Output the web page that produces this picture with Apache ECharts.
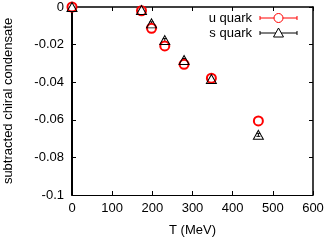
<!DOCTYPE html>
<html><head><meta charset="utf-8">
<script src="https://cdn.jsdelivr.net/npm/echarts@6/dist/echarts.min.js"></script>
<style>html,body{margin:0;padding:0;background:#fff}#c{width:327px;height:241px}</style>
</head><body><div id="c"></div>
<script>
const T = [0, 173, 198, 231, 279, 347, 464];
const uQuark = [0, -0.002, -0.0113, -0.0207, -0.0305, -0.0379, -0.0606];
const uErr = [0.0003, 0.0005, 0.0008, 0.0008, 0.0008, 0.0006, 0.001];
const sQuark = [0, -0.0016, -0.0087, -0.0176, -0.0282, -0.0383, -0.068];
const sErr = [0.0003, 0.0005, 0.0008, 0.0008, 0.0008, 0.0006, 0.0008];
const xTicks = [0, 100, 200, 300, 400, 500, 600];
const yTicks = [0, -0.02, -0.04, -0.06, -0.08, -0.1];

const font = 'Liberation Sans, Arial, sans-serif';
const FS = 13;
const chart = echarts.init(document.getElementById('c'));

function errSeries(vals, errs, color) {
  return {
    type: 'custom', z: 3, clip: false,
    data: T.map((t, i) => [t, vals[i], errs[i]]),
    renderItem: function (params, api) {
      const x = api.value(0), y = api.value(1), e = api.value(2);
      const p1 = api.coord([x, y + e]), p2 = api.coord([x, y - e]);
      const w = 2;
      const st = { stroke: color, lineWidth: 1 };
      return { type: 'group', children: [
        { type: 'line', shape: { x1: p1[0], y1: p1[1], x2: p2[0], y2: p2[1] }, style: st },
        { type: 'line', shape: { x1: p1[0] - w, y1: p1[1], x2: p1[0] + w, y2: p1[1] }, style: st },
        { type: 'line', shape: { x1: p2[0] - w, y1: p2[1], x2: p2[0] + w, y2: p2[1] }, style: st }
      ]};
    }
  };
}

function axisCommon(w) {
  return {
    axisLine: { show: true, onZero: false, lineStyle: { color: '#000', width: w } },
    axisTick: { show: true, inside: true, length: 4, lineStyle: { color: '#000', width: 1 } },
    splitLine: { show: false }
  };
}

function legendRow(y, label, color, symbol) {
  const items = [
    { type: 'text', x: 252, y: y, style: { text: label, x: 0, y: 0, textAlign: 'right', textVerticalAlign: 'middle', font: FS + 'px ' + font, fill: '#000' } },
    { type: 'line', shape: { x1: 260, y1: y, x2: 297, y2: y }, style: { stroke: color, lineWidth: 1 } },
    { type: 'line', shape: { x1: 260, y1: y - 2, x2: 260, y2: y + 2 }, style: { stroke: color, lineWidth: 1 } },
    { type: 'line', shape: { x1: 297, y1: y - 2, x2: 297, y2: y + 2 }, style: { stroke: color, lineWidth: 1 } }
  ];
  if (symbol === 'circle') {
    items.push({ type: 'circle', shape: { cx: 278.5, cy: y, r: 4.5 }, style: { stroke: color, fill: '#fff', lineWidth: 1 } });
  } else {
    items.push({ type: 'polygon', shape: { points: [[278.5, y - 5], [273.5, y + 4], [283.5, y + 4]] }, style: { stroke: color, fill: '#fff', lineWidth: 1 } });
  }
  return items;
}

chart.setOption({
  animation: false,
  grid: { left: 72, right: 14, top: 7, bottom: 46, containLabel: false, outerBoundsMode: 'none' },
  textStyle: { fontFamily: font },
  xAxis: [
    Object.assign({ type: 'value', min: 0, max: 600, interval: 100, position: 'bottom',
      name: 'T (MeV)', nameLocation: 'middle', nameGap: 29,
      nameTextStyle: { fontSize: FS, color: '#000', fontFamily: font },
      axisLabel: { fontSize: FS, color: '#000', margin: 7, fontFamily: font,
        formatter: v => xTicks.includes(v) ? String(v) : '' } }, axisCommon(1)),
    Object.assign({ type: 'value', min: 0, max: 600, interval: 100, position: 'top',
      axisLabel: { show: false } }, axisCommon(1.5))
  ],
  yAxis: [
    Object.assign({ type: 'value', min: -0.1, max: 0, interval: 0.02, position: 'left',
      name: 'subtracted chiral condensate', nameLocation: 'middle', nameGap: 57,
      nameTextStyle: { fontSize: FS, color: '#000', fontFamily: font },
      axisLabel: { fontSize: FS, color: '#000', margin: 8, fontFamily: font,
        formatter: v => { const r = Math.round(v * 100) / 100; return yTicks.some(t => Math.abs(t - r) < 1e-9) ? String(r) : ''; } } }, axisCommon(2)),
    Object.assign({ type: 'value', min: -0.1, max: 0, interval: 0.02, position: 'right',
      axisLabel: { show: false } }, axisCommon(1.5))
  ],
  series: [
    errSeries(uQuark, uErr, '#ff0000'),
    errSeries(sQuark, sErr, '#000000'),
    { type: 'scatter', name: 'u quark', clip: false, z: 4, symbol: 'emptyCircle', symbolSize: 9,
      itemStyle: { color: '#ff0000', borderColor: '#ff0000', borderWidth: 1, opacity: 1 },
      data: T.map((t, i) => [t, uQuark[i]]) },
    { type: 'scatter', name: 's quark', clip: false, z: 5, symbol: 'path://M5,0 L10,9 L0,9 Z', symbolSize: [10, 9],
      itemStyle: { color: 'rgba(0,0,0,0)', borderColor: '#000', borderWidth: 1, opacity: 1 },
      data: T.map((t, i) => [t, sQuark[i]]) }
  ],
  graphic: [].concat(legendRow(18, 'u quark', '#ff0000', 'circle'), legendRow(33, 's quark', '#000000', 'triangle'))
});
</script></body></html>
